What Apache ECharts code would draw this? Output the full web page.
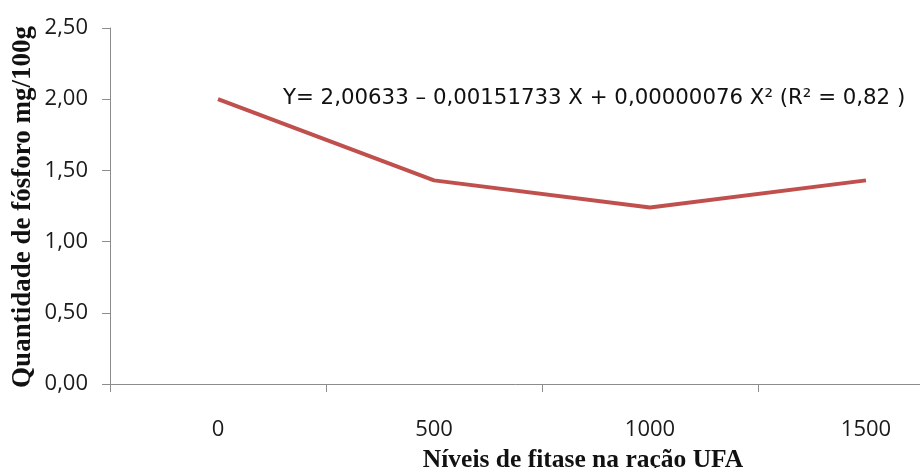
<!DOCTYPE html>
<html><head><meta charset="utf-8">
<script src="https://cdn.jsdelivr.net/npm/echarts@6/dist/echarts.min.js"></script>
<style>html,body{margin:0;padding:0;background:#fff}#c{width:920px;height:468px}</style>
</head><body><div id="c"></div>
<script>
const categories = ['0', '500', '1000', '1500'];
const values = [2.00, 1.43, 1.24, 1.43];
const yTicks = [0, 0.5, 1.0, 1.5, 2.0, 2.5];
const equation = 'Y= 2,00633 \u2013 0,00151733 X + 0,00000076 X\u00B2 (R\u00B2 = 0,82 )';
const xTitle = 'Níveis de fitase na ração UFA';
const yTitle = 'Quantidade de fósforo mg/100g';

const chart = echarts.init(document.getElementById('c'));
chart.setOption({
  animation: false,
  backgroundColor: '#fff',
  grid: { left: 110, right: -54, top: 28, bottom: 84, containLabel: false, outerBoundsMode: 'none' },
  xAxis: {
    type: 'category', data: categories, boundaryGap: true,
    axisLine: { lineStyle: { color: '#8c8c8c', width: 1 } },
    axisTick: { show: true, length: 8, alignWithLabel: false, lineStyle: { color: '#8c8c8c' } },
    axisLabel: { color: '#1a1a1a', fontSize: 22, fontFamily: 'Open Sans', margin: 35 }
  },
  yAxis: {
    type: 'value', min: yTicks[0], max: yTicks[yTicks.length - 1], interval: 0.5,
    axisLine: { show: true, lineStyle: { color: '#8c8c8c', width: 1 } },
    axisTick: { show: true, length: 8, lineStyle: { color: '#8c8c8c' } },
    splitLine: { show: false },
    axisLabel: { color: '#1a1a1a', fontSize: 22, fontFamily: 'Open Sans', margin: 22,
      formatter: v => v.toFixed(2).replace('.', ',') }
  },
  series: [{
    type: 'line', data: values, showSymbol: false, symbol: 'none',
    lineStyle: { color: '#C0504D', width: 4 }
  }],
  graphic: [{
    type: 'text', x: 283, y: 98,
    style: { text: equation, fontFamily: 'DejaVu Sans', fontSize: 21.3, fill: '#111', textVerticalAlign: 'middle' }
  }, {
    type: 'text', x: 583, y: 460,
    style: { text: xTitle, fontFamily: 'Liberation Serif', fontWeight: 'bold', fontSize: 25.5, fill: '#111',
      textAlign: 'center', textVerticalAlign: 'middle' }
  }, {
    type: 'text', x: 23, y: 207, rotation: Math.PI / 2,
    style: { text: yTitle, fontFamily: 'Liberation Serif', fontWeight: 'bold', fontSize: 27, fill: '#111',
      textAlign: 'center', textVerticalAlign: 'middle' }
  }]
});
</script></body></html>
